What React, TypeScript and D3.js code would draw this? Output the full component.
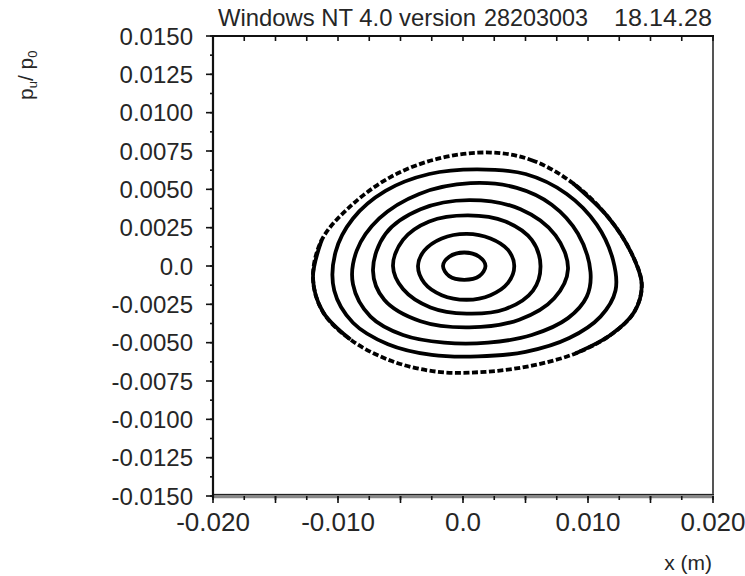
import React from "react";
import * as d3 from "d3";

type P = [number, number];

// x (m), pu/p0, outer ring first
const ring1: P[] = [
  [0.0022, 0.0074], [0.0055, 0.0069], [0.0088, 0.0054], [0.0116, 0.0032], [0.0135, 0.0008],
  [0.0143, -0.0012], [0.0137, -0.003], [0.0118, -0.0045], [0.009, -0.0057], [0.0055, -0.0065],
  [0.0018, -0.0069], [-0.002, -0.0069], [-0.0057, -0.0062], [-0.009, -0.0048], [-0.0112, -0.003],
  [-0.012, -0.0008], [-0.0113, 0.0017], [-0.009, 0.0039], [-0.0058, 0.0058], [-0.002, 0.007],
];
const ring2: P[] = [
  [0.0011, 0.0063], [0.005, 0.006], [0.0083, 0.0047], [0.0107, 0.0027], [0.012, 0.0004],
  [0.0122, -0.0016], [0.011, -0.0033], [0.0085, -0.0047], [0.005, -0.0056], [0.0012, -0.0059],
  [-0.0025, -0.0058], [-0.006, -0.0051], [-0.0088, -0.0037], [-0.0103, -0.0016], [-0.0102, 0.0009],
  [-0.0088, 0.0031], [-0.0062, 0.0049], [-0.0027, 0.006],
];
const ring3: P[] = [
  [0.0006, 0.0054], [0.0043, 0.0051], [0.0071, 0.004], [0.0092, 0.0021], [0.0102, -0.0004],
  [0.0099, -0.002], [0.0084, -0.0034], [0.0055, -0.0045], [0.002, -0.005], [-0.0015, -0.005],
  [-0.0048, -0.0045], [-0.0074, -0.0033], [-0.0088, -0.0012], [-0.0085, 0.001], [-0.0067, 0.0031],
  [-0.0035, 0.0047],
];
const ring4: P[] = [
  [0.0084, -0.0002], [0.0074, 0.002], [0.0046, 0.0037], [0.0005, 0.0043], [-0.0034, 0.0037],
  [-0.0062, 0.0021], [-0.0072, -0.0003], [-0.0063, -0.0022], [-0.0034, -0.0036], [0.0005, -0.004],
  [0.0045, -0.0035], [0.0073, -0.0021],
];
const ring5: P[] = [
  [0.0062, 0.0], [0.0055, 0.0017], [0.0034, 0.0029], [0.0004, 0.0033], [-0.0027, 0.0029],
  [-0.0048, 0.0017], [-0.0056, 0.0], [-0.0048, -0.0015], [-0.0026, -0.0027], [0.0003, -0.0031],
  [0.0034, -0.0028], [0.0056, -0.0016],
];
const ring6: P[] = [
  [0.0041, 0.0], [0.0036, 0.00105], [0.0022, 0.0018], [0.0003, 0.0021], [-0.0017, 0.0018],
  [-0.0031, 0.001], [-0.0036, 0.0], [-0.0031, -0.0011], [-0.0017, -0.0019], [0.0003, -0.0022],
  [0.0022, -0.0019], [0.0036, -0.0011],
];
const ring7: P[] = [
  [0.0018, 0.0], [0.0013, 0.0006], [0.0001, 0.00088], [-0.0011, 0.0006], [-0.0016, 0.0],
  [-0.0011, -0.00066], [0.0001, -0.0009], [0.0013, -0.00066],
];
const rings: P[][] = [ring1, ring2, ring3, ring4, ring5, ring6, ring7];
// parts of the outer ring drawn solid (index ranges), rest dotted
const outerSolidRanges: [number, number][] = [[2, 8], [13, 16]];

const xTickValues = [-0.02, -0.01, 0, 0.01, 0.02];
const xTickLabels = ["-0.020", "-0.010", "0.0", "0.010", "0.020"];
const yTickValues = [0.015, 0.0125, 0.01, 0.0075, 0.005, 0.0025, 0, -0.0025, -0.005, -0.0075, -0.01, -0.0125, -0.015];
const yTickLabels = ["0.0150", "0.0125", "0.0100", "0.0075", "0.0050", "0.0025", "0.0", "-0.0025", "-0.0050", "-0.0075", "-0.0100", "-0.0125", "-0.0150"];

const FONT = "'Liberation Sans', Arial, Helvetica, sans-serif";
const TXT = "#262626";

export default function App() {
  const left = 213, right = 713, top = 36, bottom = 496;
  const x = d3.scaleLinear().domain([-0.02, 0.02]).range([left, right]);
  const y = d3.scaleLinear().domain([-0.015, 0.015]).range([bottom, top]);

  const closed = d3.line<P>().x((d) => x(d[0])).y((d) => y(d[1])).curve(d3.curveCatmullRomClosed.alpha(0.5));
  const open = d3.line<P>().x((d) => x(d[0])).y((d) => y(d[1])).curve(d3.curveCatmullRom.alpha(0.5));

  const xMinor = d3.range(-0.02, 0.02 + 1e-9, 0.0025);
  const xMid = d3.range(-0.02, 0.02 + 1e-9, 0.005);
  const yMinor = d3.range(-0.015, 0.015 + 1e-9, 0.00125);

  return (
    <svg width={745} height={576} style={{ position: "absolute", left: 0, top: 0, background: "#fff" }} fontFamily={FONT}>
      <rect x={0} y={0} width={745} height={576} fill="#fff" />
      {/* title */}
      <text x={218} y={26} fontSize={24} fill={TXT} textLength={258} lengthAdjust="spacingAndGlyphs">Windows NT 4.0 version</text>
      <text x={484} y={26} fontSize={24} fill={TXT} textLength={104} lengthAdjust="spacingAndGlyphs">28203003</text>
      <text x={712} y={26} fontSize={24} fill={TXT} textAnchor="end" textLength={98} lengthAdjust="spacingAndGlyphs">18.14.28</text>

      {/* y label */}
      <text transform="translate(33,100) rotate(-90)" fontSize={21} fill={TXT}>
        p<tspan fontSize={13} dy={4}>u</tspan><tspan dy={-4}>/ p</tspan><tspan fontSize={13} dy={4}>0</tspan>
      </text>
      {/* x label */}
      <text x={712} y={570} fontSize={21} fill={TXT} textAnchor="end">x (m)</text>

      {/* frame */}
      <line x1={right} x2={right} y1={top} y2={bottom} stroke="#555" strokeWidth={2} />
      <line x1={left} x2={right + 1} y1={top} y2={top} stroke="#111" strokeWidth={2.2} />
      <line x1={left} x2={right + 1} y1={bottom} y2={bottom} stroke="#888" strokeWidth={4.5} />
      <line x1={left} x2={right + 1} y1={bottom - 1.5} y2={bottom - 1.5} stroke="#222" strokeWidth={1.2} />
      <line x1={left} x2={left} y1={top - 1} y2={bottom + 2} stroke="#111" strokeWidth={2.2} />

      {/* top ticks */}
      {xMinor.map((v, i) => (
        <line key={"tt" + i} x1={x(v)} x2={x(v)} y1={top} y2={top + 5} stroke="#111" strokeWidth={1.6} />
      ))}
      {/* bottom ticks */}
      {xMinor.map((v, i) => (
        <line key={"bm" + i} x1={x(v)} x2={x(v)} y1={bottom} y2={bottom + 4} stroke="#111" strokeWidth={1.6} />
      ))}
      {xMid.map((v, i) => (
        <line key={"bj" + i} x1={x(v)} x2={x(v)} y1={bottom} y2={bottom + 7} stroke="#111" strokeWidth={1.6} />
      ))}
      {xTickValues.map((v, i) => (
        <text key={"xl" + i} x={x(v)} y={531} fontSize={26} fill={TXT} textAnchor="middle">{xTickLabels[i]}</text>
      ))}

      {/* left ticks */}
      {yMinor.map((v, i) => (
        <line key={"ym" + i} x1={left - 3} x2={left} y1={y(v)} y2={y(v)} stroke="#111" strokeWidth={1.6} />
      ))}
      {yTickValues.map((v, i) => (
        <line key={"yj" + i} x1={left - 7} x2={left} y1={y(v)} y2={y(v)} stroke="#111" strokeWidth={1.6} />
      ))}
      {yTickValues.map((v, i) => (
        <text key={"yl" + i} x={193} y={y(v)} dy="0.36em" fontSize={24} fill={TXT} textAnchor="end">{yTickLabels[i]}</text>
      ))}

      {/* rings */}
      {rings.map((r, i) => (
        <path key={"r" + i} d={closed(r) || ""} fill="none" stroke="#000" strokeWidth={3.8}
          strokeDasharray={i === 0 ? "6 2.5" : undefined} />
      ))}
      {outerSolidRanges.map(([a, b], i) => (
        <path key={"os" + i} d={open(ring1.slice(a, b + 1)) || ""} fill="none" stroke="#000" strokeWidth={3.8} />
      ))}
    </svg>
  );
}
